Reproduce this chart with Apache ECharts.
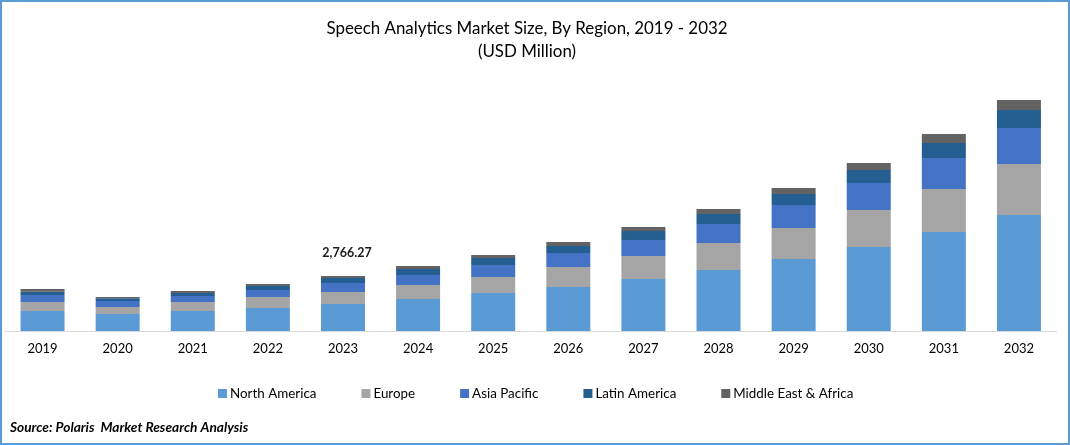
<!DOCTYPE html>
<html>
<head>
<meta charset="utf-8">
<title>Speech Analytics Market Size</title>
<style>
  html, body { margin: 0; padding: 0; background: #fff; }
  #main { width: 1070px; height: 445px; }
</style>
<script src="https://cdn.jsdelivr.net/npm/echarts@6/dist/echarts.min.js"></script>
</head>
<body>
<div id="main"></div>
<script>
const years = ['2019', '2020', '2021', '2022', '2023', '2024', '2025', '2026', '2027', '2028', '2029', '2030', '2031', '2032'];

// values, USD million
const northAmerica = [1006, 855, 1006, 1157, 1358, 1610, 1911, 2213, 2616, 3068, 3622, 4225, 4980, 5835];
const europe = [453, 352, 453, 553, 604, 704, 805, 1006, 1157, 1358, 1559, 1861, 2163, 2565];
const asiaPacific = [352, 302, 302, 352, 453, 503, 604, 704, 805, 956, 1157, 1358, 1559, 1811];
const latinAmerica = [166, 136, 151, 201, 251, 302, 352, 352, 453, 503, 553, 654, 755, 905];
const middleEast = [136, 65, 101, 101, 100.27, 151, 151, 201, 201, 252, 302, 352, 453, 503];

const seriesNames = ['North America', 'Europe', 'Asia Pacific', 'Latin America', 'Middle East & Africa'];
const seriesColors = ['#5b9bd5', '#a5a5a5', '#4472c4', '#255e91', '#636363'];
const seriesValues = [northAmerica, europe, asiaPacific, latinAmerica, middleEast];

const calloutYear = '2023';
const calloutText = '2,766.27';

const fontName = 'Lato';
const chart = echarts.init(document.getElementById('main'), null, { renderer: 'canvas' });

const series = seriesNames.map((name, i) => ({
  name: name,
  type: 'bar',
  stack: 'total',
  barWidth: 44,
  itemStyle: { color: seriesColors[i] },
  // only the top segment of one year carries the total
  data: seriesValues[i].map((v, j) => {
    if (i === seriesNames.length - 1 && years[j] === calloutYear) {
      return {
        value: v,
        label: {
          show: true,
          position: 'top',
          distance: 17,
          offset: [4, 0],
          formatter: calloutText,
          fontFamily: fontName,
          fontSize: 12.5,
          fontWeight: 'bold',
          color: '#1a1a1a'
        }
      };
    }
    return v;
  })
}));

chart.setOption({
  animation: false,
  backgroundColor: '#fff',
  title: [{
    text: 'Speech Analytics Market Size, By Region, 2019 - 2032\n(USD Million)',
    left: 522,
    top: 12,
    textAlign: 'center',
    textStyle: {
      fontFamily: fontName,
      fontSize: 16.9,
      fontWeight: 'normal',
      color: '#000',
      lineHeight: 23
    }
  }, {
    text: 'Source: Polaris  Market Research Analysis',
    left: 5,
    top: 416,
    textStyle: {
      fontFamily: fontName,
      fontSize: 13.7,
      fontWeight: 'bold',
      fontStyle: 'italic',
      color: '#000'
    }
  }],
  legend: {
    data: seriesNames,
    left: 213,
    top: 382,
    icon: 'rect',
    itemWidth: 9,
    itemHeight: 9,
    itemGap: 45,
    textStyle: {
      fontFamily: fontName,
      fontSize: 13.4,
      color: '#000',
      padding: [0, 0, 0, -2]
    }
  },
  grid: { left: 5, top: 81, width: 1051.5, height: 250 },
  xAxis: {
    type: 'category',
    data: years,
    axisLine: { lineStyle: { color: '#d9d9d9', width: 1 } },
    axisTick: { show: false },
    axisLabel: { fontFamily: fontName, fontSize: 13, color: '#000', margin: 11 }
  },
  yAxis: {
    type: 'value',
    min: 0,
    max: 12575,
    show: false,
    splitLine: { show: false }
  },
  series: series,
  graphic: [{
    type: 'rect',
    silent: true,
    z: 100,
    shape: { x: 1, y: 1, width: 1068, height: 443 },
    style: { fill: 'none', stroke: '#5b9bd5', lineWidth: 2 }
  }]
});
</script>
</body>
</html>
